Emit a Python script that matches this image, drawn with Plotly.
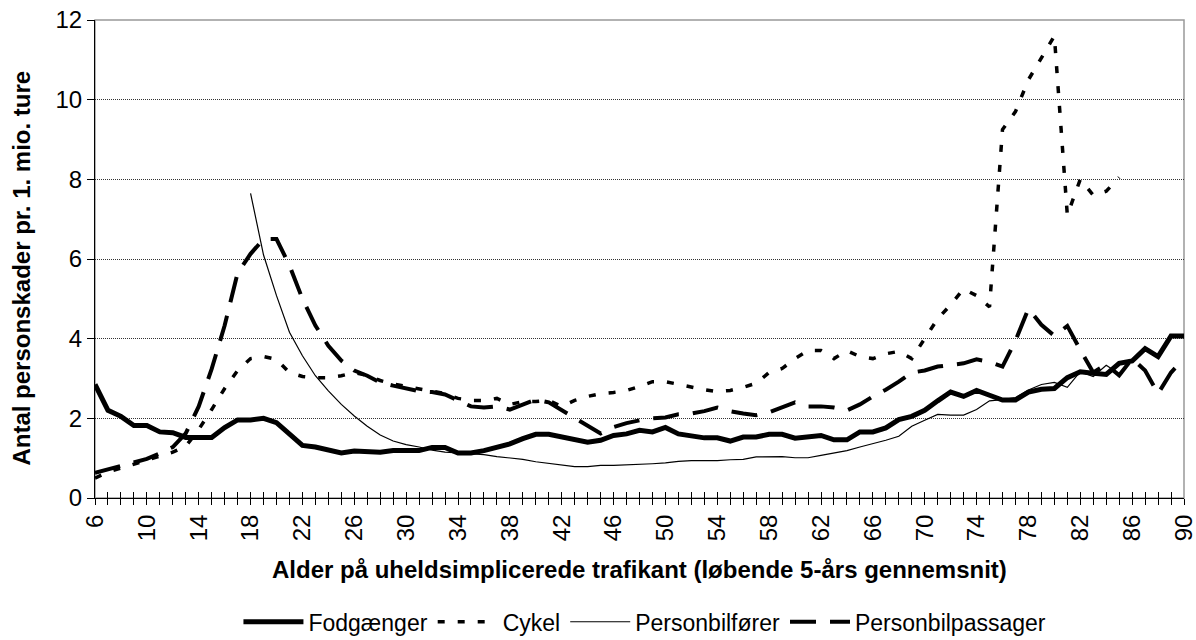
import plotly.graph_objects as go

ages = list(range(6, 91))

fodgaenger = [2.85, 2.2, 2.05, 1.82, 1.82, 1.66, 1.64, 1.52, 1.52, 1.52,
              1.77, 1.96, 1.96, 2.0, 1.89, 1.62, 1.32, 1.28, 1.22, 1.13,
              1.18, 1.18, 1.15, 1.19, 1.19, 1.19, 1.27, 1.27, 1.13, 1.13,
              1.19, 1.27, 1.36, 1.49, 1.6, 1.6, 1.53, 1.46, 1.4, 1.45,
              1.57, 1.61, 1.7, 1.66, 1.77, 1.61, 1.55, 1.51, 1.51, 1.43,
              1.53, 1.53, 1.6, 1.6, 1.5, 1.53, 1.57, 1.46, 1.46, 1.66,
              1.66, 1.76, 1.97, 2.05, 2.2, 2.44, 2.66, 2.55, 2.7, 2.58,
              2.46, 2.46, 2.66, 2.73, 2.75, 3.02, 3.17, 3.13, 3.1, 3.38,
              3.44, 3.75, 3.55, 4.07, 4.07]

cykel = [0.5, 0.65, 0.75, 0.85, 0.95, 1.05, 1.15, 1.3, 1.72, 2.22,
         2.75, 3.2, 3.5, 3.55, 3.48, 3.15, 3.05, 3.02, 3.02, 3.07,
         3.15, 3.08, 2.95, 2.86, 2.8, 2.72, 2.68, 2.62, 2.5, 2.45,
         2.45, 2.5, 2.35, 2.42, 2.42, 2.45, 2.3, 2.45, 2.55, 2.62,
         2.65, 2.7, 2.8, 2.92, 2.92, 2.85, 2.78, 2.72, 2.67, 2.7,
         2.78, 2.88, 3.15, 3.25, 3.5, 3.7, 3.7, 3.5, 3.7, 3.55,
         3.5, 3.62, 3.68, 3.5, 4.0, 4.5, 4.85, 5.25, 5.08, 4.8,
         9.25, 9.7, 10.5, 11.05, 11.6, 7.1, 8.0, 7.6, 7.7, 8.05,
         None, None, None, None, None]

personbilforer = [None] * 12 + [
    7.65, 6.1, 5.08, 4.16, 3.57, 3.07, 2.69, 2.35, 2.06, 1.8,
    1.58, 1.43, 1.34, 1.28, 1.2, 1.15, 1.13, 1.11, 1.09, 1.04,
    1.01, 0.97, 0.91, 0.87, 0.84, 0.79, 0.79, 0.82, 0.82, 0.83,
    0.84, 0.86, 0.88, 0.92, 0.94, 0.94, 0.94, 0.96, 0.97, 1.03,
    1.04, 1.04, 1.01, 1.01, 1.07, 1.13, 1.19, 1.28, 1.36, 1.45,
    1.55, 1.8, 1.95, 2.1, 2.08, 2.08, 2.22, 2.44, 2.47, 2.52,
    2.71, 2.85, 2.9, 2.78, 3.17, 3.05, 3.33, 3.12,
    None, None, None, None, None]

personbilpassager = [0.63, 0.72, 0.8, 0.88, 0.98, 1.12, 1.28, 1.62, 2.3, 3.24,
                     4.33, 5.65, 6.13, 6.5, 6.5, 5.84, 5.0, 4.33, 3.82, 3.45,
                     3.2, 3.07, 2.9, 2.82, 2.76, 2.68, 2.66, 2.6, 2.45, 2.3,
                     2.27, 2.3, 2.22, 2.35, 2.47, 2.4, 2.2, 2.0, 1.8, 1.62,
                     1.78, 1.88, 1.95, 2.0, 2.02, 2.1, 2.12, 2.18, 2.27, 2.18,
                     2.12, 2.08, 2.15, 2.28, 2.4, 2.3, 2.3, 2.27, 2.2, 2.35,
                     2.55, 2.72, 2.92, 3.15, 3.2, 3.3, 3.35, 3.38, 3.48, 3.42,
                     3.3, 3.95, 4.75, 4.35, 4.07, 4.32, 3.72, 3.15, 3.35, 3.08,
                     3.5, 3.2, 2.62, 3.15, 3.5]

tick_labels = [str(a) if (a - 6) % 4 == 0 else "" for a in ages]

FONT = "Liberation Sans, Arial, sans-serif"

fig = go.Figure()
fig.add_trace(go.Scatter(x=ages, y=fodgaenger, mode="lines", name="Fodgænger",
                         line=dict(color="black", width=5)))
fig.add_trace(go.Scatter(x=ages, y=cykel, mode="lines", name="Cykel",
                         line=dict(color="black", width=3.5, dash="7px,13px")))
fig.add_trace(go.Scatter(x=ages, y=personbilforer, mode="lines", name="Personbilfører",
                         line=dict(color="black", width=1.2)))
fig.add_trace(go.Scatter(x=ages, y=personbilpassager, mode="lines", name="Personbilpassager",
                         line=dict(color="black", width=4, dash="26px,14px")))
# helper trace for the inner half of the crossing x ticks
fig.add_trace(go.Scatter(x=[ages[0]], y=[None], xaxis="x2", showlegend=False,
                         hoverinfo="skip", mode="lines"))

fig.update_layout(
    width=1196, height=640,
    paper_bgcolor="white", plot_bgcolor="white",
    margin=dict(l=95, r=12, t=20, b=142, autoexpand=False),
    font=dict(family=FONT, color="black", size=23),
    showlegend=True,
    legend=dict(orientation="h", x=0.505, xanchor="center", xref="paper",
                y=-0.259, yanchor="middle", font=dict(size=23),
                itemwidth=60, tracegroupgap=0, bgcolor="rgba(0,0,0,0)"),
    xaxis=dict(range=[6, 90], tickmode="array", tickvals=ages, ticktext=tick_labels,
               tickangle=-90, ticks="outside", ticklen=6, tickcolor="black",
               showline=True, linecolor="black", linewidth=1, showgrid=False,
               zeroline=False, tickfont=dict(size=24), automargin=False,
               ticklabeloverflow="allow"),
    xaxis2=dict(range=[6, 90], overlaying="x", anchor="y", side="bottom",
                tickmode="linear", tick0=6, dtick=1, ticks="inside", ticklen=6,
                tickcolor="black", showticklabels=False, showgrid=False,
                showline=False, zeroline=False, automargin=False),
    yaxis=dict(range=[0, 12], tickmode="linear", tick0=0, dtick=2,
               ticks="outside", ticklen=7, tickcolor="black",
               showline=True, linecolor="black", linewidth=1,
               showgrid=True, gridcolor="#333333", gridwidth=1, griddash="1px,1px",
               zeroline=False, tickfont=dict(size=24), automargin=False,
               ticklabeloverflow="allow"),
    shapes=[dict(type="rect", xref="paper", yref="paper", x0=0, x1=1, y0=0, y1=1,
                 line=dict(color="#999999", width=1.5), layer="below")],
    annotations=[
        dict(text="<b>Alder på uheldsimplicerede trafikant (løbende 5-års gennemsnit)</b>",
             xref="paper", yref="paper", x=0.5, y=-0.15, xanchor="center",
             yanchor="middle", showarrow=False, font=dict(size=24)),
        dict(text="<b>Antal personskader pr. 1. mio. ture</b>",
             xref="paper", yref="paper", x=-0.067, y=0.48, xanchor="center",
             yanchor="middle", textangle=-90, showarrow=False, font=dict(size=24)),
    ],
)

fig.write_html("out.html", config={"displayModeBar": False},
               post_script="document.body.style.margin='0';document.body.style.overflow='hidden';")
